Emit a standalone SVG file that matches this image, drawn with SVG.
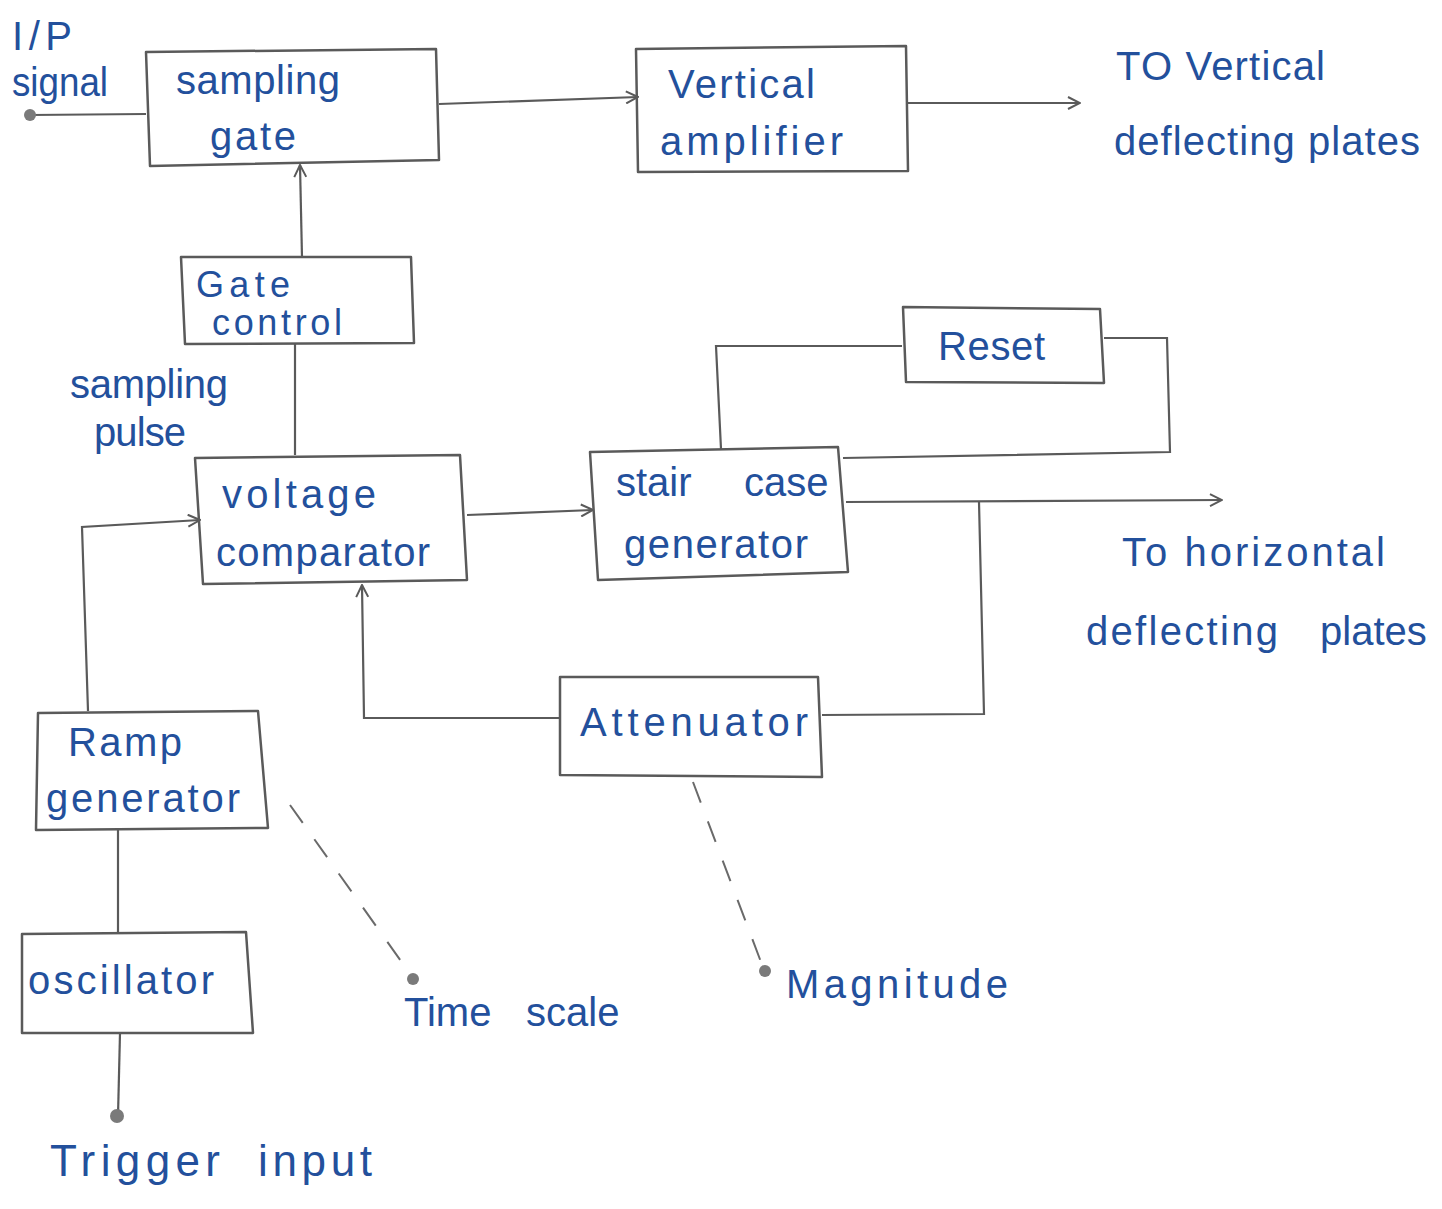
<svg xmlns="http://www.w3.org/2000/svg" width="1442" height="1209" viewBox="0 0 1442 1209">
  <style>
    .box { fill: none; stroke: #5a5a5a; stroke-width: 2.5; stroke-linejoin: round; }
    .wire { fill: none; stroke: #5a5a5a; stroke-width: 2.2; }
    .dash { fill: none; stroke: #6a6a6a; stroke-width: 2; stroke-dasharray: 22 20; }
    .lbl { font-family: "Liberation Sans", "Noto Sans", sans-serif; font-size: 40px; fill: #23509c; }
    .sm { font-size: 36px; }
    .lg { font-size: 44px; }
    .dot { fill: #7a7a7a; }
  </style>
  <defs>
    <marker id="arr" viewBox="0 0 14 14" refX="13" refY="7" markerWidth="14" markerHeight="14" markerUnits="userSpaceOnUse" orient="auto">
      <path d="M1,1 L13,7 L1,13" fill="none" stroke="#5a5a5a" stroke-width="2"/>
    </marker>
  </defs>
  <rect width="1442" height="1209" fill="#ffffff"/>

  <!-- connectors -->
  <g id="connectors">
    <path class="wire" d="M30,115 L146,114"/>
    <path class="wire" d="M439,104 L638,97" marker-end="url(#arr)"/>
    <path class="wire" d="M908,103 L1080,103" marker-end="url(#arr)"/>
    <path class="wire" d="M302,257 L300,165" marker-end="url(#arr)"/>
    <path class="wire" d="M295,455 L295,344"/>
    <path class="wire" d="M467,515 L593,510" marker-end="url(#arr)"/>
    <path class="wire" d="M721,449 L716,346 L902,346"/>
    <path class="wire" d="M1104,338 L1167,338 L1170,452 L843,458"/>
    <path class="wire" d="M846,502 L1222,500" marker-end="url(#arr)"/>
    <path class="wire" d="M979,502 L984,714 L822,715"/>
    <path class="wire" d="M560,718 L364,718 L362,585" marker-end="url(#arr)"/>
    <path class="wire" d="M88,711 L82,527 L200,520" marker-end="url(#arr)"/>
    <path class="wire" d="M118,830 L118,934"/>
    <path class="wire" d="M120,1033 L118,1116"/>
    <path class="dash" d="M290,805 L413,978"/>
    <path class="dash" d="M693,782 L764,970"/>
    <circle class="dot" cx="30" cy="115" r="6"/>
    <circle class="dot" cx="117" cy="1116" r="7"/>
    <circle class="dot" cx="413" cy="979" r="6"/>
    <circle class="dot" cx="765" cy="971" r="6"/>
  </g>

  <g id="input-signal">
    <text class="lbl" x="12" y="50" textLength="60" lengthAdjust="spacing">I/P</text>
    <text class="lbl" x="12" y="96" textLength="96" lengthAdjust="spacingAndGlyphs">signal</text>
  </g>

  <g id="sampling-gate">
    <polygon class="box" points="146,52 436,49 439,160 150,166"/>
    <text class="lbl" x="176" y="94" textLength="164" lengthAdjust="spacing">sampling</text>
    <text class="lbl" x="210" y="150" textLength="86" lengthAdjust="spacing">gate</text>
  </g>

  <g id="vertical-amplifier">
    <polygon class="box" points="636,49 906,46 908,171 638,172"/>
    <text class="lbl" x="668" y="98" textLength="147" lengthAdjust="spacing">Vertical</text>
    <text class="lbl" x="660" y="155" textLength="183" lengthAdjust="spacing">amplifier</text>
  </g>

  <g id="vertical-plates">
    <text class="lbl" x="1116" y="80" textLength="209" lengthAdjust="spacing">TO Vertical</text>
    <text class="lbl" x="1114" y="155" textLength="306" lengthAdjust="spacing">deflecting plates</text>
  </g>

  <g id="gate-control">
    <polygon class="box" points="181,257 411,257 414,343 185,344"/>
    <text class="lbl sm" x="196" y="297" textLength="94" lengthAdjust="spacing">Gate</text>
    <text class="lbl sm" x="212" y="335" textLength="130" lengthAdjust="spacing">control</text>
  </g>

  <g id="sampling-pulse">
    <text class="lbl" x="70" y="398" textLength="158" lengthAdjust="spacing">sampling</text>
    <text class="lbl" x="94" y="446" textLength="92" lengthAdjust="spacing">pulse</text>
  </g>

  <g id="voltage-comparator">
    <polygon class="box" points="195,458 460,455 467,580 203,584"/>
    <text class="lbl" x="222" y="508" textLength="154" lengthAdjust="spacing">voltage</text>
    <text class="lbl" x="216" y="566" textLength="214" lengthAdjust="spacing">comparator</text>
  </g>

  <g id="staircase-generator">
    <polygon class="box" points="590,452 838,447 848,572 598,580"/>
    <text class="lbl" x="616" y="496">stair<tspan x="744">case</tspan></text>
    <text class="lbl" x="624" y="558" textLength="184" lengthAdjust="spacing">generator</text>
  </g>

  <g id="reset">
    <polygon class="box" points="903,307 1100,309 1104,383 906,382"/>
    <text class="lbl" x="938" y="360" textLength="107" lengthAdjust="spacing">Reset</text>
  </g>

  <g id="horizontal-plates">
    <text class="lbl" x="1122" y="566" textLength="263" lengthAdjust="spacing">To horizontal</text>
    <text class="lbl" x="1086" y="645" textLength="192" lengthAdjust="spacing">deflecting</text>
    <text class="lbl" x="1320" y="645">plates</text>
  </g>

  <g id="attenuator">
    <polygon class="box" points="560,677 818,677 822,777 560,775"/>
    <text class="lbl" x="580" y="736" textLength="228" lengthAdjust="spacing">Attenuator</text>
  </g>

  <g id="ramp-generator">
    <polygon class="box" points="38,713 258,711 268,828 36,830"/>
    <text class="lbl" x="68" y="756" textLength="114" lengthAdjust="spacing">Ramp</text>
    <text class="lbl" x="46" y="812" textLength="194" lengthAdjust="spacing">generator</text>
  </g>

  <g id="oscillator">
    <polygon class="box" points="22,934 246,932 253,1033 22,1033"/>
    <text class="lbl" x="28" y="994" textLength="186" lengthAdjust="spacing">oscillator</text>
  </g>

  <g id="trigger-input">
    <text class="lbl lg" x="50" y="1176" textLength="170" lengthAdjust="spacing">Trigger</text>
    <text class="lbl lg" x="258" y="1176" textLength="114" lengthAdjust="spacing">input</text>
  </g>

  <g id="time-scale">
    <text class="lbl" x="404" y="1026">Time<tspan x="526">scale</tspan></text>
  </g>

  <g id="magnitude">
    <text class="lbl" x="786" y="998" textLength="222" lengthAdjust="spacing">Magnitude</text>
  </g>
</svg>
